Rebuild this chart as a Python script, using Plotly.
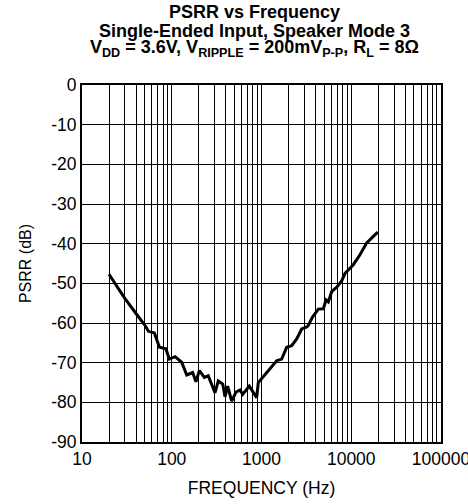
import plotly.graph_objects as go

# PSRR measurement, single-ended input, speaker mode 3
freq_hz = [20, 25, 30, 40, 50, 55, 64, 73, 86, 94, 109, 129, 147, 171, 186, 203,
           231, 255, 303, 330, 370, 392, 420, 465, 520, 576, 617, 731, 847, 883,
           921, 1000, 1143, 1476, 1678, 1909, 2170, 2466, 2804, 3190, 3326, 3700,
           4296, 4888, 5235, 5550, 6053, 7000, 7830, 8517, 10540, 12510, 14860,
           17000, 19720]
psrr_db = [-47.7, -51.0, -53.8, -57.6, -60.5, -62.1, -62.5, -66.1, -66.5, -69.1,
           -68.5, -69.9, -73.1, -72.5, -74.8, -72.0, -73.7, -73.3, -77.6, -74.6,
           -75.4, -78.6, -75.9, -79.7, -77.4, -76.9, -78.0, -75.9, -78.4, -78.8,
           -75.0, -74.0, -72.5, -69.5, -69.1, -66.1, -65.7, -64.0, -61.5, -61.0,
           -60.6, -58.5, -56.5, -56.4, -54.2, -54.7, -52.1, -50.8, -49.4, -47.5,
           -45.3, -42.8, -39.8, -38.5, -37.1]

x_ticks = [10, 100, 1000, 10000, 100000]
x_tick_labels = ["10", "100", "1000", "10000", "100000"]
y_ticks = [0, -10, -20, -30, -40, -50, -60, -70, -80, -90]
y_tick_labels = ["0", "-10", "-20", "-30", "-40", "-50", "-60", "-70", "-80", "-90"]

title_lines = [
    "PSRR vs Frequency",
    "Single-Ended Input, Speaker Mode 3",
    "V<sub>DD</sub> = 3.6V, V<sub>RIPPLE</sub> = 200mV<sub>P-P</sub>, R<sub>L</sub> = 8Ω",
]

W, H = 468, 504
ML, MR, MT, MB = 82, 27, 85, 62

fig = go.Figure(go.Scatter(
    x=freq_hz, y=psrr_db, mode="lines",
    line=dict(color="black", width=3), showlegend=False,
))

font_family = "Liberation Sans, Arial, sans-serif"
ph = H - MT - MB
title_centers = [12, 30.5, 49]
for text, yc in zip(title_lines, title_centers):
    fig.add_annotation(
        text=f"<b>{text}</b>", xref="paper", yref="paper",
        x=(254 - ML) / (W - ML - MR), y=(H - MB - yc) / ph,
        xanchor="center", yanchor="middle", showarrow=False,
        font=dict(family=font_family, size=18, color="black"),
    )

fig.update_xaxes(
    type="log", range=[1, 5], automargin=False,
    tickmode="array", tickvals=x_ticks, ticktext=x_tick_labels,
    ticklabeloverflow="allow",
    showline=True, linecolor="black", linewidth=2, mirror=True,
    showgrid=True, gridcolor="black", gridwidth=1,
    minor=dict(dtick="D1", showgrid=True, gridcolor="black", gridwidth=1),
    ticks="", zeroline=False,
    tickfont=dict(family=font_family, size=17.5, color="black"),
    title=dict(text="FREQUENCY (Hz)", font=dict(family=font_family, size=17.5, color="black"), standoff=14),
)
fig.update_yaxes(
    range=[-90, 0], automargin=False,
    tickmode="array", tickvals=y_ticks, ticktext=y_tick_labels,
    showline=True, linecolor="black", linewidth=2, mirror=True,
    showgrid=True, gridcolor="black", gridwidth=1,
    ticks="", zeroline=False,
    tickfont=dict(family=font_family, size=17.5, color="black"),
    title=dict(text="PSRR (dB)", font=dict(family=font_family, size=16, color="black"), standoff=16),
)

fig.update_layout(
    width=W, height=H,
    margin=dict(l=ML, r=MR, t=MT, b=MB),
    plot_bgcolor="white", paper_bgcolor="white",
)

fig.write_html("out.html")
